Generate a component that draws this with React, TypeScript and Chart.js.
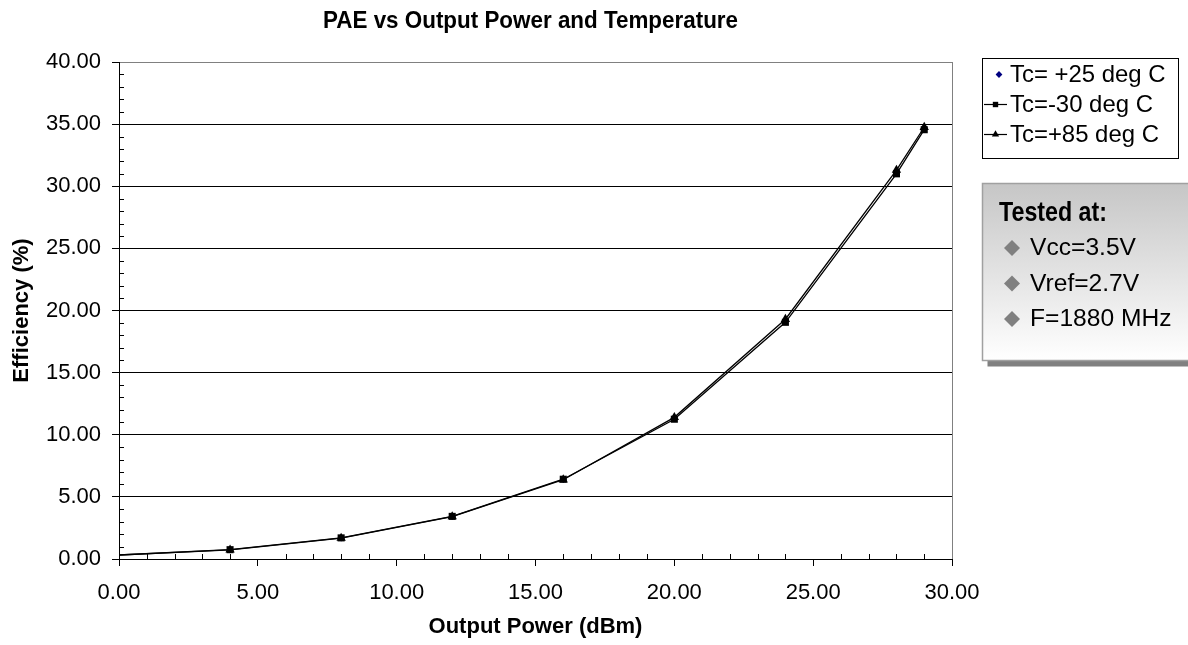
import React, { useEffect, useRef } from "react";
import { Chart, registerables } from "chart.js";

Chart.register(...registerables);

// ---- data ----
const powerDbm = [0, 4, 8, 12, 16, 20, 24, 28, 29];
const paeTc25 = [0.32, 0.74, 1.69, 3.42, 6.4, 11.32, 19.18, 31.15, 34.65];
const paeTcM30 = [0.32, 0.75, 1.7, 3.43, 6.42, 11.25, 19.05, 31.0, 34.55];
const paeTc85 = [0.32, 0.74, 1.68, 3.41, 6.38, 11.4, 19.3, 31.3, 34.75];
const seriesLabels = ["Tc= +25 deg C", "Tc=-30 deg C", "Tc=+85 deg C"];
const chartTitle = "PAE vs Output Power and Temperature";
const xAxisTitle = "Output Power (dBm)";
const yAxisTitle = "Efficiency (%)";
const xRange = [0, 30];
const yRange = [0, 40];
const majorStep = 5;
const testedTitle = "Tested at:";
const testedItems = ["Vcc=3.5V", "Vref=2.7V", "F=1880 MHz"];

const SANS = '"Liberation Sans", Arial, Helvetica, sans-serif';

function fitSize(text: string, weight: string, family: string, target: number, max: number) {
  const c = document.createElement("canvas");
  const ctx = c.getContext("2d")!;
  ctx.font = `${weight} 100px ${family}`;
  const w = ctx.measureText(text).width;
  return Math.min(max, (100 * target) / w);
}

// draws text condensed/stretched horizontally so it spans the given width
function drawFitted(
  ctx: CanvasRenderingContext2D,
  text: string,
  x: number,
  y: number,
  font: string,
  sx: number,
  align: CanvasTextAlign
) {
  ctx.save();
  ctx.font = font;
  ctx.textAlign = align;
  ctx.textBaseline = "middle";
  ctx.translate(x, y);
  ctx.scale(sx, 1);
  ctx.fillText(text, 0, 0);
  ctx.restore();
}

function widthOf(ctx: CanvasRenderingContext2D, text: string, font: string) {
  ctx.save();
  ctx.font = font;
  const w = ctx.measureText(text).width;
  ctx.restore();
  return w;
}

function drawMarker(ctx: CanvasRenderingContext2D, style: string, x: number, y: number, r: number, color: string) {
  ctx.save();
  ctx.fillStyle = color;
  ctx.beginPath();
  if (style === "rect") {
    const s = r * Math.SQRT1_2;
    ctx.rect(x - s, y - s, 2 * s, 2 * s);
  } else if (style === "triangle") {
    ctx.moveTo(x, y - r);
    ctx.lineTo(x + r * 0.866, y + r * 0.5);
    ctx.lineTo(x - r * 0.866, y + r * 0.5);
    ctx.closePath();
  } else {
    ctx.moveTo(x, y - r);
    ctx.lineTo(x + r, y);
    ctx.lineTo(x, y + r);
    ctx.lineTo(x - r, y);
    ctx.closePath();
  }
  ctx.fill();
  ctx.restore();
}

export default function App() {
  const ref = useRef<HTMLCanvasElement | null>(null);

  useEffect(() => {
    document.body.style.margin = "0";
    const canvas = ref.current!;
    Chart.defaults.color = "#000";
    Chart.defaults.font.family = SANS;

    const legendSize = fitSize("Tc=-30 deg C", "normal", SANS, 143, 25);

    const styles = [
      { point: "rectRot", color: "#000080", radius: 3.4, line: false },
      { point: "rect", color: "#000", radius: 5, line: true },
      { point: "triangle", color: "#000", radius: 5.4, line: true },
    ];
    const values = [paeTc25, paeTcM30, paeTc85];

    const extras = {
      id: "extras",
      beforeDatasetsDraw(chart: any) {
        const { ctx, chartArea } = chart;
        ctx.save();
        ctx.strokeStyle = "#808080";
        ctx.lineWidth = 1;
        ctx.beginPath();
        const rx = Math.round(chartArea.right) + 0.5;
        ctx.moveTo(rx, chartArea.top);
        ctx.lineTo(rx, chartArea.bottom);
        ctx.stroke();
        // minor ticks
        const xs = chart.scales.x;
        const ys = chart.scales.y;
        ctx.strokeStyle = "#000";
        ctx.beginPath();
        for (let v = xRange[0]; v <= xRange[1]; v++) {
          if (v % majorStep === 0) continue;
          const px = Math.round(xs.getPixelForValue(v)) + 0.5;
          ctx.moveTo(px, chartArea.bottom - 5);
          ctx.lineTo(px, chartArea.bottom);
        }
        for (let v = yRange[0]; v <= yRange[1]; v++) {
          if (v % majorStep === 0) continue;
          const py = Math.round(ys.getPixelForValue(v)) + 0.5;
          ctx.moveTo(chartArea.left, py);
          ctx.lineTo(chartArea.left + 5, py);
        }
        ctx.stroke();
        ctx.restore();
      },
      afterDraw(chart: any) {
        const ctx: CanvasRenderingContext2D = chart.ctx;
        ctx.save();
        ctx.fillStyle = "#000";

        // chart title (condensed bold)
        const titleFont = `bold 24px ${SANS}`;
        const tsx = 415 / widthOf(ctx, chartTitle, titleFont);
        drawFitted(ctx, chartTitle, (chart.chartArea.left + chart.chartArea.right) / 2 - 5, 21, titleFont, tsx, "center");

        // legend box
        const lx = 982.5, ly = 58.5, lw = 196, lh = 100;
        ctx.fillStyle = "#fff";
        ctx.fillRect(lx, ly, lw, lh);
        ctx.strokeStyle = "#000";
        ctx.lineWidth = 1;
        ctx.strokeRect(lx, ly, lw, lh);
        ctx.font = `${legendSize}px ${SANS}`;
        ctx.textBaseline = "middle";
        ctx.textAlign = "left";
        seriesLabels.forEach((label, i) => {
          const y = 74.5 + 30 * i;
          const st = styles[i];
          if (st.line) {
            ctx.strokeStyle = st.color;
            ctx.lineWidth = 1.2;
            ctx.beginPath();
            ctx.moveTo(984, y);
            ctx.lineTo(1007, y);
            ctx.stroke();
            drawMarker(ctx, st.point, 995.5, y, st.radius - 1.2, st.color);
          } else {
            drawMarker(ctx, st.point, 999, y, st.radius, st.color);
          }
          ctx.fillStyle = "#000";
          ctx.fillText(label, 1010, y + 1);
        });

        // tested-at box
        const bx = 982.5, by = 183.5, bw = 230, bh = 177;
        ctx.fillStyle = "#808080";
        ctx.fillRect(bx + 5, by + 6, bw, bh);
        const g = ctx.createLinearGradient(0, by, 0, by + bh);
        g.addColorStop(0, "#c6c6c6");
        g.addColorStop(1, "#ffffff");
        ctx.fillStyle = g;
        ctx.fillRect(bx, by, bw, bh);
        ctx.strokeStyle = "#a0a0a0";
        ctx.lineWidth = 1.5;
        ctx.strokeRect(bx, by, bw, bh);
        ctx.fillStyle = "#000";
        const headFont = `bold 27px ${SANS}`;
        const hsx = 108 / widthOf(ctx, testedTitle, headFont);
        drawFitted(ctx, testedTitle, 999, 214, headFont, hsx, "left");
        const itemFont = `23px ${SANS}`;
        const isx = 106 / widthOf(ctx, testedItems[0], itemFont);
        testedItems.forEach((t, i) => {
          const y = 248 + 35.5 * i;
          drawMarker(ctx, "diamond", 1012, y, 8, "#808080");
          ctx.fillStyle = "#000";
          drawFitted(ctx, t, 1030, y + 1, itemFont, isx, "left");
        });
        ctx.restore();
      },
    };

    const chart = new Chart(canvas, {
      type: "scatter",
      data: {
        datasets: values.map((vals, i) => ({
          label: seriesLabels[i],
          data: powerDbm.map((x, k) => ({ x, y: vals[k] })),
          showLine: styles[i].line,
          borderColor: styles[i].color,
          backgroundColor: styles[i].color,
          borderWidth: 1.3,
          pointStyle: styles[i].point as any,
          pointRadius: (c: any) => (c.raw && c.raw.x <= xRange[0] ? 0 : styles[i].radius),
          pointBorderWidth: 0,
          pointBackgroundColor: styles[i].color,
          pointBorderColor: styles[i].color,
          tension: 0,
          order: 3 - i,
        })),
      },
      options: {
        responsive: false,
        animation: false,
        events: [],
        layout: { padding: { left: 0, right: 236, top: 62, bottom: 0 } },
        plugins: {
          legend: { display: false },
          tooltip: { enabled: false },
          title: { display: false },
        },
        scales: {
          x: {
            type: "linear",
            min: xRange[0],
            max: xRange[1],
            afterFit: (s: any) => {
              s.height = 86;
            },
            ticks: {
              stepSize: majorStep,
              autoSkip: false,
              maxRotation: 0,
              padding: 14,
              font: { size: 22, family: SANS },
              color: "#000",
              callback: (v: any) => Number(v).toFixed(2),
            },
            grid: { drawOnChartArea: false, drawTicks: true, tickLength: 7, tickColor: "#000", color: "#000" },
            border: { display: true, color: "#000", width: 1 },
            title: {
              display: true,
              text: xAxisTitle,
              color: "#000",
              font: { size: 22, weight: "bold", family: SANS },
              padding: { top: 0, bottom: 5 },
            },
          },
          y: {
            type: "linear",
            min: yRange[0],
            max: yRange[1],
            afterFit: (s: any) => {
              s.width = 119;
            },
            ticks: {
              stepSize: majorStep,
              padding: 11,
              font: { size: 22, family: SANS },
              color: "#000",
              callback: (v: any) => Number(v).toFixed(2),
            },
            grid: {
              drawTicks: true,
              tickLength: 7,
              tickColor: "#000",
              color: (c: any) => (c.tick && c.tick.value === yRange[1] ? "#808080" : "#000"),
              lineWidth: 1,
            },
            border: { display: true, color: "#000", width: 1 },
            title: {
              display: true,
              text: yAxisTitle,
              color: "#000",
              font: { size: 22, weight: "bold", family: SANS },
              padding: { top: 9, bottom: 0 },
            },
          },
        },
      },
      plugins: [extras],
    } as any);

    return () => chart.destroy();
  }, []);

  return (
    <div style={{ width: 1188, height: 645, overflow: "hidden", background: "#fff" }}>
      <canvas ref={ref} width={1188} height={645} style={{ display: "block" }} />
    </div>
  );
}
